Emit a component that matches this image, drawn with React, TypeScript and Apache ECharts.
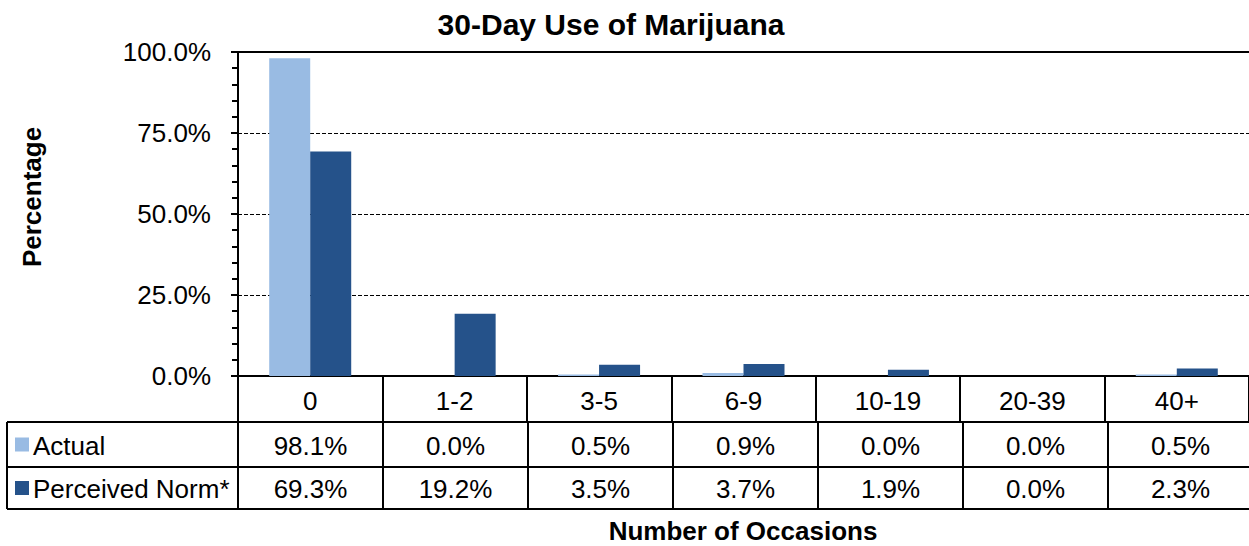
import React, { useEffect, useRef } from "react";
import * as echarts from "echarts";

const categories = ["0", "1-2", "3-5", "6-9", "10-19", "20-39", "40+"];
const actual = [98.1, 0.0, 0.5, 0.9, 0.0, 0.0, 0.5];
const perceived = [69.3, 19.2, 3.5, 3.7, 1.9, 0.0, 2.3];
const seriesNames = ["Actual", "Perceived Norm*"];
const seriesColors = ["#99BBE3", "#25528A"];
const titleText = "30-Day Use of Marijuana";
const yAxisName = "Percentage";
const xAxisName = "Number of Occasions";

const FONT = "'Liberation Sans', Arial, Helvetica, sans-serif";
const GRID_LEFT = 238;
const GRID_TOP = 52;
const GRID_BOTTOM = 376;
const COL_W = 145;
const TABLE_LEFT = 7;
const ROW_Y = [422, 467, 509];

export default function App() {
  const ref = useRef<HTMLDivElement>(null);
  useEffect(() => {
    if (!ref.current) return;
    const chart = echarts.init(ref.current, null, { renderer: "svg" });
    const right = GRID_LEFT + COL_W * categories.length;
    const lineStyle = { stroke: "#000", lineWidth: 2 };
    const graphic: any[] = [];
    graphic.push({ type: "line", z: 100, shape: { x1: GRID_LEFT, y1: GRID_TOP, x2: right, y2: GRID_TOP }, style: lineStyle });
    ROW_Y.forEach((y) => {
      graphic.push({ type: "line", z: 100, shape: { x1: TABLE_LEFT, y1: y, x2: right, y2: y }, style: lineStyle });
    });
    graphic.push({ type: "line", z: 100, shape: { x1: TABLE_LEFT, y1: ROW_Y[0], x2: TABLE_LEFT, y2: ROW_Y[2] }, style: lineStyle });
    for (let i = 0; i <= categories.length; i++) {
      const x = GRID_LEFT + i * COL_W;
      graphic.push({ type: "line", z: 100, shape: { x1: x, y1: ROW_Y[0], x2: x, y2: ROW_Y[2] }, style: lineStyle });
    }
    const rows = [actual, perceived];
    rows.forEach((vals, r) => {
      const cy = (ROW_Y[r] + ROW_Y[r + 1]) / 2 + 1;
      graphic.push({ type: "rect", shape: { x: 15, y: cy - 8, width: 14, height: 14 }, style: { fill: seriesColors[r] } });
      graphic.push({
        type: "text", x: 33, y: cy,
        style: { text: seriesNames[r], font: `26px ${FONT}`, fill: "#000", textAlign: "left", textVerticalAlign: "middle" },
      });
      vals.forEach((v, i) => {
        graphic.push({
          type: "text", x: GRID_LEFT + (i + 0.5) * COL_W, y: cy,
          style: { text: `${v.toFixed(1)}%`, font: `26px ${FONT}`, fill: "#000", textAlign: "center", textVerticalAlign: "middle" },
        });
      });
    });
    graphic.push({
      type: "text", x: 611, y: 24,
      style: { text: titleText, font: `bold 30px ${FONT}`, fill: "#000", textAlign: "center", textVerticalAlign: "middle" },
    });
    graphic.push({
      type: "text", x: 743, y: 531,
      style: { text: xAxisName, font: `bold 26px ${FONT}`, fill: "#000", textAlign: "center", textVerticalAlign: "middle" },
    });
    graphic.push({
      type: "text", x: 32, y: 197, rotation: Math.PI / 2,
      style: { text: yAxisName, font: `bold 26px ${FONT}`, fill: "#000", textAlign: "center", textVerticalAlign: "middle" },
    });

    chart.setOption({
      animation: false,
      backgroundColor: "#fff",
      textStyle: { fontFamily: FONT },
      grid: { left: GRID_LEFT, top: GRID_TOP, width: COL_W * categories.length, height: GRID_BOTTOM - GRID_TOP, containLabel: false },
      xAxis: {
        type: "category",
        data: categories,
        boundaryGap: true,
        axisLine: { show: true, lineStyle: { color: "#000", width: 2 } },
        axisTick: { show: true, inside: false, length: ROW_Y[0] - GRID_BOTTOM, lineStyle: { color: "#000", width: 2 } },
        axisLabel: { color: "#000", fontSize: 26, fontFamily: FONT, margin: 12 },
        splitLine: { show: false },
      },
      yAxis: {
        type: "value",
        min: 0,
        max: 100,
        interval: 25,
        axisLine: { show: true, lineStyle: { color: "#000", width: 2 } },
        axisTick: { show: true, inside: false, length: 7, lineStyle: { color: "#000", width: 2 } },
        minorTick: { show: true, splitNumber: 5, length: 6, lineStyle: { color: "#000", width: 2 } },
        axisLabel: { color: "#000", fontSize: 26, fontFamily: FONT, margin: 27, formatter: (v: number) => `${v.toFixed(1)}%` },
        splitLine: { show: true, lineStyle: { color: "#000", width: 1, type: [4, 2] } },
      },
      series: [
        {
          name: seriesNames[0], type: "bar", data: actual, barWidth: 41, barGap: "0%",
          itemStyle: { color: seriesColors[0], borderWidth: 0 },
        },
        {
          name: seriesNames[1], type: "bar", data: perceived, barWidth: 41, barGap: "0%",
          itemStyle: { color: seriesColors[1], borderWidth: 0 },
        },
      ],
      graphic,
    });
    return () => chart.dispose();
  }, []);
  return <div ref={ref} style={{ position: "absolute", left: 0, top: 0, width: 1249, height: 546 }} />;
}
